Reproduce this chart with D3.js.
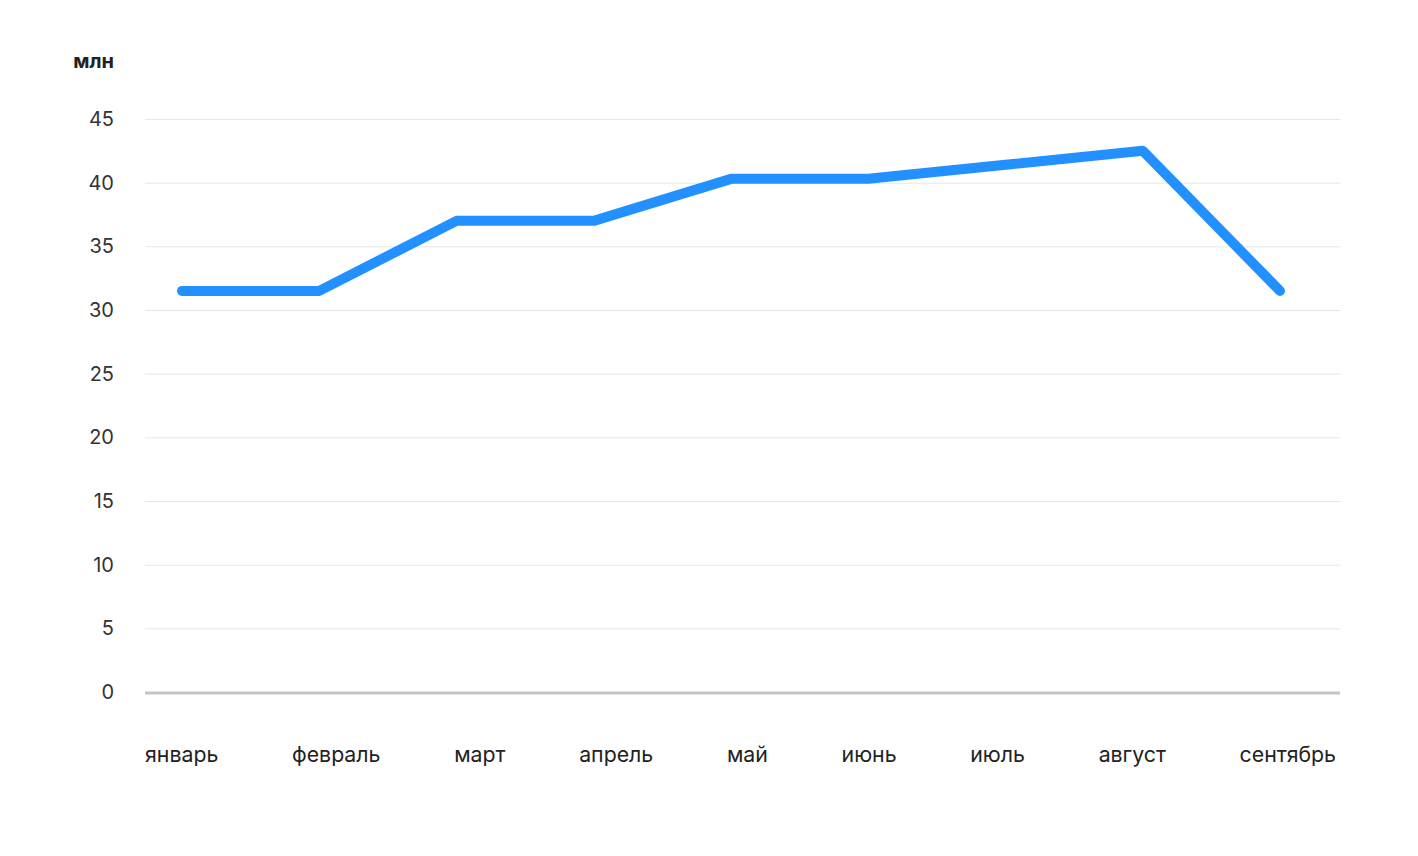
<!DOCTYPE html>
<html><head><meta charset="utf-8">
<script src="https://cdn.jsdelivr.net/npm/d3@7"></script>
<style>html,body{margin:0;padding:0;background:#fff;}svg{display:block;font-family:Inter,"Noto Sans",sans-serif;}</style>
</head><body>
<svg id="chart" width="1418" height="856"></svg>
<script>
const months = ["январь","февраль","март","апрель","май","июнь","июль","август","сентябрь"];
const values = [31.5, 31.5, 37, 37, 40.3, 40.3, 41.4, 42.5, 31.5];
const yTicks = [0,5,10,15,20,25,30,35,40,45];
const unitLabel = "млн";

const svg = d3.select("#chart");
const plotLeft = 145, plotRight = 1340;
const y = d3.scaleLinear().domain([0,45]).range([692,119]);
const x = d3.scalePoint().domain(months).range([182,1280]);

// gridlines
svg.append("g").selectAll("line").data(yTicks.filter(d=>d>0)).join("line")
  .attr("x1",plotLeft).attr("x2",plotRight)
  .attr("y1",d=>y(d)+0.5).attr("y2",d=>y(d)+0.5)
  .attr("stroke","#e6e6e6").attr("stroke-width",1);
svg.append("line").attr("x1",plotLeft).attr("x2",plotRight)
  .attr("y1",y(0)+1).attr("y2",y(0)+1).attr("stroke","#c4c4c4").attr("stroke-width",3);

// y labels
svg.append("g").selectAll("text").data(yTicks).join("text")
  .attr("x",114).attr("y",d=>y(d)).attr("dy","0.35em")
  .attr("text-anchor","end").attr("font-size",20).attr("fill","#333")
  .text(d=>d);
svg.append("text").attr("x",114).attr("y",61).attr("dy","0.35em")
  .attr("text-anchor","end").attr("font-size",20).attr("font-weight",700).attr("fill","#222")
  .text(unitLabel);

// month labels with space-between layout
const mg = svg.append("g");
const mt = mg.selectAll("text").data(months).join("text")
  .attr("y",755).attr("dy","0.35em").attr("font-size",21.3).attr("fill","#222").text(d=>d);
const widths = [];
mt.each(function(){ widths.push(this.getComputedTextLength()); });
const lLeft = 145, lRight = 1336;
const gap = (lRight - lLeft - d3.sum(widths)) / (months.length - 1);
let cx = lLeft;
mt.attr("x",(d,i)=>{ const p = cx; cx += widths[i] + gap; return p; });

// line
svg.append("path").datum(months.map((m,i)=>({m, v: values[i]})))
  .attr("fill","none").attr("stroke","#2291ff").attr("stroke-width",10)
  .attr("stroke-linecap","round").attr("stroke-linejoin","round")
  .attr("d", d3.line().x(d=>x(d.m)).y(d=>y(d.v)));
</script>
</body></html>
